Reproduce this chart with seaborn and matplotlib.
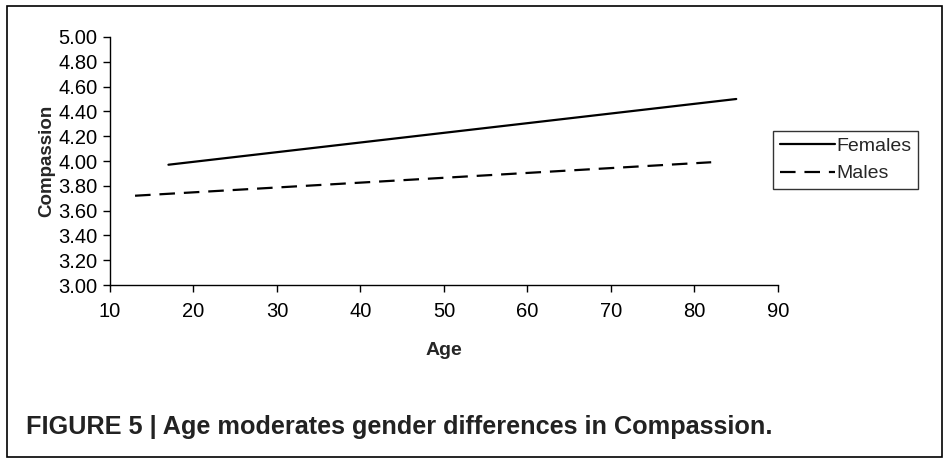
import seaborn as sns
import pandas as pd
import matplotlib.pyplot as plt
from matplotlib.patches import Rectangle

# end points of the two regression lines
female_age = [17, 85]
female_comp = [3.97, 4.50]
male_age = [13, 82]
male_comp = [3.72, 3.99]

df = pd.DataFrame({
    "Age": female_age + male_age,
    "Compassion": female_comp + male_comp,
    "Gender": ["Females"] * len(female_age) + ["Males"] * len(male_age),
})

sns.set_style("ticks")
plt.rcParams["font.family"] = ["Liberation Sans", "DejaVu Sans"]

fig = plt.figure(figsize=(9.49, 4.63), dpi=100)
ax = fig.add_axes([0.1159, 0.3844, 0.7039, 0.5357])

sns.lineplot(
    data=df,
    x="Age",
    y="Compassion",
    hue="Gender",
    style="Gender",
    palette=["black", "black"],
    dashes={"Females": "", "Males": (7, 4)},
    linewidth=1.6,
    ax=ax,
)

ax.set_xlim(10, 90)
ax.set_ylim(3.0, 5.0)
ax.set_xticks(range(10, 100, 10))
ax.set_yticks([3.0 + 0.2 * i for i in range(11)])
ax.set_yticklabels([f"{3.0 + 0.2 * i:.2f}" for i in range(11)])
ax.tick_params(labelsize=14.5, length=5, width=1, colors="black", pad=4)
ax.tick_params(axis="x", pad=7)
ax.set_xlabel("Age", fontsize=14, fontweight="bold", labelpad=15)
ax.set_ylabel("Compassion", fontsize=13.5, fontweight="bold", labelpad=2)
sns.despine(ax=ax)
for s in ["left", "bottom"]:
    ax.spines[s].set_color("black")
    ax.spines[s].set_linewidth(1)

leg = ax.legend(
    loc="center left",
    bbox_to_anchor=(0.9925, 0.504),
    borderaxespad=0,
    frameon=True,
    fancybox=False,
    edgecolor="black",
    fontsize=14,
    handlelength=2.85,
    handletextpad=0.05,
    borderpad=0.35,
    labelspacing=0.5,
)
leg.get_frame().set_linewidth(1)

fig.add_artist(Rectangle((0.007, 0.013), 0.986, 0.974, transform=fig.transFigure,
                         fill=False, edgecolor="black", linewidth=1.2))
fig.text(0.027, 0.052, "FIGURE 5 | Age moderates gender differences in Compassion.",
         fontsize=18.2, fontweight="bold", color="#222222", va="bottom")

plt.savefig("out.png", dpi=100, facecolor="white")
